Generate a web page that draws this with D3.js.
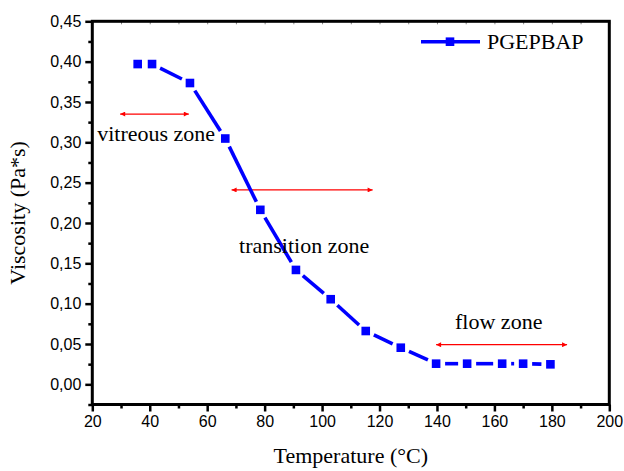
<!DOCTYPE html>
<html>
<head>
<meta charset="utf-8">
<script src="https://cdn.jsdelivr.net/npm/d3@7"></script>
<style>
  html, body { margin: 0; padding: 0; background: #fff; }
  svg { display: block; }
</style>
</head>
<body>
<div id="chart"></div>
<script>
// Data
const temperature = [35.8, 40.8, 54.0, 66.3, 78.5, 90.9, 103.0, 115.2, 127.4, 139.7, 150.5, 162.7, 170.0, 179.5];
const viscosity = [0.397, 0.397, 0.3735, 0.3047, 0.2163, 0.1418, 0.1055, 0.0661, 0.0454, 0.0256, 0.0256, 0.0256, 0.0256, 0.0248];

const xTicks = [20, 40, 60, 80, 100, 120, 140, 160, 180, 200];
const yTicks = [0, 0.05, 0.10, 0.15, 0.20, 0.25, 0.30, 0.35, 0.40, 0.45];

// Zone annotations (data units)
const zoneNames = ["vitreous zone", "transition zone", "flow zone"];
const zoneFrom = [29.7, 68.5, 139.7];
const zoneTo = [53.6, 117.6, 185.3];
const zoneArrowY = [0.335, 0.241, 0.0491];
const zoneLabelX = [21.7, 71.1, 146.3];
const zoneLabelY = [0.302, 0.1633, 0.0682];

const width = 624;
const height = 471;
const margin = { top: 21.3, right: 14.7, bottom: 66.5, left: 92.3 };

const svg = d3.select("#chart")
    .append("svg")
    .attr("width", width)
    .attr("height", height);

svg.append("rect").attr("width", width).attr("height", height).attr("fill", "#fff");

const x = d3.scaleLinear().domain([20, 200]).range([margin.left, width - margin.right]);
const y = d3.scaleLinear().domain([-0.025, 0.45]).range([height - margin.bottom, margin.top]);

const comma = d3.formatLocale({ decimal: ",", thousands: ".", grouping: [3], currency: ["", ""] });
const fmtY = comma.format(".2f");

// Arrow marker
const defs = svg.append("defs");
defs.append("marker")
    .attr("id", "arrow")
    .attr("viewBox", "0 0 10 10")
    .attr("refX", 10).attr("refY", 5)
    .attr("markerUnits", "userSpaceOnUse")
    .attr("markerWidth", 8).attr("markerHeight", 5)
    .attr("orient", "auto-start-reverse")
    .append("path")
    .attr("d", "M0,0L10,5L0,10Z")
    .attr("fill", "#ff0000");

// Minor ticks
const xMinor = d3.range(30, 200, 20);
const yMinor = d3.range(-0.025, 0.45, 0.05);

svg.append("g")
    .attr("transform", `translate(0,${y(-0.025)})`)
    .call(d3.axisBottom(x).tickValues(xMinor).tickSize(4).tickFormat(""))
    .call(g => g.select(".domain").remove())
    .call(g => g.selectAll("line").attr("stroke-width", 2.5));

svg.append("g")
    .attr("transform", `translate(${x(20)},0)`)
    .call(d3.axisLeft(y).tickValues(yMinor).tickSize(4).tickFormat(""))
    .call(g => g.select(".domain").remove())
    .call(g => g.selectAll("line").attr("stroke-width", 2.5));

// Major axes
svg.append("g")
    .attr("transform", `translate(0,${y(-0.025)})`)
    .call(d3.axisBottom(x).tickValues(xTicks).tickSize(7).tickPadding(4).tickFormat(d3.format("d")))
    .call(g => g.select(".domain").remove())
    .call(g => g.selectAll("line").attr("stroke-width", 2.5))
    .call(g => g.selectAll("text")
        .attr("font-family", "Liberation Sans, Arial, sans-serif")
        .attr("font-size", 16)
        .attr("fill", "#000"));

svg.append("g")
    .attr("transform", `translate(${x(20)},0)`)
    .call(d3.axisLeft(y).tickValues(yTicks).tickSize(7).tickPadding(4).tickFormat(fmtY))
    .call(g => g.select(".domain").remove())
    .call(g => g.selectAll("line").attr("stroke-width", 2.5))
    .call(g => g.selectAll("text")
        .attr("font-family", "Liberation Sans, Arial, sans-serif")
        .attr("font-size", 16)
        .attr("fill", "#000"));

// Faint inward ticks on top edge
svg.append("g")
    .attr("transform", `translate(0,${y(0.45)})`)
    .call(d3.axisTop(x).tickValues(d3.range(20, 201, 10)).tickSize(-3).tickFormat(""))
    .call(g => g.select(".domain").remove())
    .call(g => g.selectAll("line").attr("stroke", "#888").attr("stroke-width", 1));

// Frame
svg.append("rect")
    .attr("x", x(20)).attr("y", y(0.45))
    .attr("width", x(200) - x(20))
    .attr("height", y(-0.025) - y(0.45))
    .attr("fill", "none")
    .attr("stroke", "#000")
    .attr("stroke-width", 3);

// Zone arrows
const zones = zoneNames.map((name, i) => ({
    name, from: zoneFrom[i], to: zoneTo[i], ay: zoneArrowY[i], lx: zoneLabelX[i], ly: zoneLabelY[i]
}));

svg.append("g")
    .selectAll("line")
    .data(zones)
    .enter()
    .append("line")
    .attr("x1", d => x(d.from))
    .attr("x2", d => x(d.to))
    .attr("y1", d => y(d.ay))
    .attr("y2", d => y(d.ay))
    .attr("stroke", "#ff0000")
    .attr("stroke-width", 1.2)
    .attr("marker-start", "url(#arrow)")
    .attr("marker-end", "url(#arrow)");

// Data line, broken around each symbol
const pts = temperature.map((t, i) => ({ px: x(t), py: y(viscosity[i]) }));
const gap = 9;
const segments = [];
for (let i = 0; i < pts.length - 1; i++) {
    const a = pts[i], b = pts[i + 1];
    const dx = b.px - a.px, dy = b.py - a.py;
    const len = Math.hypot(dx, dy);
    if (len <= 2 * gap) continue;
    const ux = dx / len, uy = dy / len;
    segments.push({
        x1: a.px + ux * gap, y1: a.py + uy * gap,
        x2: b.px - ux * gap, y2: b.py - uy * gap
    });
}

svg.append("g")
    .selectAll("line")
    .data(segments)
    .enter()
    .append("line")
    .attr("x1", d => d.x1).attr("y1", d => d.y1)
    .attr("x2", d => d.x2).attr("y2", d => d.y2)
    .attr("stroke", "#0000ff")
    .attr("stroke-width", 3.6);

const size = 8.6;
svg.append("g")
    .selectAll("rect")
    .data(temperature.map((t, i) => ({ t, v: viscosity[i] })))
    .enter()
    .append("rect")
    .attr("x", d => x(d.t) - size / 2)
    .attr("y", d => y(d.v) - size / 2)
    .attr("width", size)
    .attr("height", size)
    .attr("fill", "#0000ff");

// Zone labels
svg.append("g")
    .selectAll("text")
    .data(zones)
    .enter()
    .append("text")
    .attr("x", d => x(d.lx))
    .attr("y", d => y(d.ly))
    .attr("font-family", "Liberation Serif, Times New Roman, serif")
    .attr("font-size", 22)
    .attr("fill", "#000")
    .text(d => d.name);

// Legend
const legend = svg.append("g");
legend.append("line")
    .attr("x1", 421).attr("x2", 480).attr("y1", 41.7).attr("y2", 41.7)
    .attr("stroke", "#0000ff").attr("stroke-width", 3.6);
legend.append("rect")
    .attr("x", 450 - size / 2).attr("y", 41.7 - size / 2)
    .attr("width", size).attr("height", size)
    .attr("fill", "#0000ff");
legend.append("text")
    .attr("x", 487).attr("y", 49.3)
    .attr("font-family", "Liberation Serif, Times New Roman, serif")
    .attr("font-size", 22)
    .attr("fill", "#000")
    .text("PGEPBAP");

// Axis titles
svg.append("text")
    .attr("x", (x(20) + x(200)) / 2)
    .attr("y", 463)
    .attr("text-anchor", "middle")
    .attr("font-family", "Liberation Serif, Times New Roman, serif")
    .attr("font-size", 22)
    .text("Temperature (°C)");

svg.append("text")
    .attr("transform", `translate(25,${(y(0.45) + y(-0.025)) / 2}) rotate(-90)`)
    .attr("text-anchor", "middle")
    .attr("font-family", "Liberation Serif, Times New Roman, serif")
    .attr("font-size", 22)
    .text("Viscosity (Pa*s)");
</script>
</body>
</html>
